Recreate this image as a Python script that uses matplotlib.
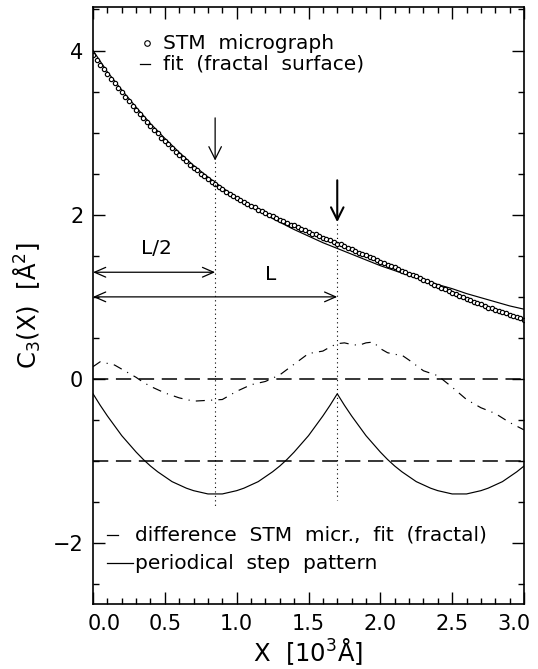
import numpy as np
import matplotlib
matplotlib.use('Agg')
import matplotlib.pyplot as plt
from matplotlib.ticker import MultipleLocator
from matplotlib.transforms import ScaledTranslation

plt.rcParams['font.family'] = 'DejaVu Sans'
plt.rcParams['mathtext.fontset'] = 'dejavusans'
plt.rcParams['lines.scale_dashes'] = False

# C3(X) from the STM micrograph, one circle every 0.025 (10^3 A)
stm_x = np.linspace(0.0, 3.0, 121)
stm_y = [3.95, 3.89, 3.83, 3.77, 3.71, 3.65, 3.60, 3.54, 3.49, 3.43,
         3.38, 3.33, 3.28, 3.23, 3.18, 3.13, 3.08, 3.03, 2.99, 2.94,
         2.90, 2.86, 2.81, 2.77, 2.73, 2.69, 2.65, 2.61, 2.57, 2.54,
         2.50, 2.47, 2.43, 2.40, 2.37, 2.34, 2.31, 2.28, 2.25, 2.23,
         2.20, 2.18, 2.15, 2.13, 2.11, 2.09, 2.06, 2.04, 2.02, 2.00,
         1.98, 1.96, 1.94, 1.92, 1.90, 1.88, 1.87, 1.85, 1.83, 1.81,
         1.79, 1.77, 1.76, 1.74, 1.72, 1.71, 1.69, 1.67, 1.65, 1.64,
         1.62, 1.60, 1.58, 1.56, 1.54, 1.52, 1.51, 1.49, 1.47, 1.45,
         1.43, 1.41, 1.39, 1.38, 1.36, 1.34, 1.32, 1.30, 1.28, 1.27,
         1.25, 1.23, 1.21, 1.19, 1.17, 1.15, 1.13, 1.11, 1.09, 1.07,
         1.05, 1.03, 1.01, 1.00, 0.98, 0.96, 0.94, 0.92, 0.91, 0.89,
         0.87, 0.86, 0.84, 0.83, 0.81, 0.80, 0.78, 0.77, 0.75, 0.74,
         0.72]

# fractal surface fit
fit_x = np.linspace(0.0, 3.0, 31)
fit_y = [4.00, 3.74, 3.52, 3.31, 3.11, 2.93, 2.76, 2.60, 2.46, 2.33,
         2.21, 2.10, 2.00, 1.91, 1.82, 1.74, 1.66, 1.59, 1.52, 1.45,
         1.38, 1.32, 1.26, 1.21, 1.15, 1.10, 1.04, 0.99, 0.94, 0.89,
         0.85]

# difference STM - fit
diff_x = [0.0, 0.05, 0.1, 0.15, 0.2, 0.25, 0.3, 0.35, 0.4,
          0.5, 0.6, 0.7, 0.8, 0.9, 1.0, 1.1, 1.2, 1.3, 1.4, 1.5,
          1.6, 1.65, 1.7, 1.75, 1.8, 1.85, 1.9, 1.95, 2.0, 2.05, 2.1, 2.15, 2.2,
          2.3, 2.4, 2.5, 2.6, 2.7, 2.8, 2.9, 3.0]
diff_y = [0.15, 0.21, 0.19, 0.17, 0.12, 0.07, 0.02, -0.04, -0.09,
          -0.17, -0.23, -0.27, -0.26, -0.25, -0.15, -0.07, -0.03, 0.05, 0.18, 0.31,
          0.34, 0.39, 0.43, 0.44, 0.42, 0.41, 0.44, 0.45, 0.37, 0.32, 0.30, 0.29, 0.23,
          0.10, 0.04, -0.10, -0.25, -0.35, -0.42, -0.53, -0.62]

# periodical step pattern (period L = 1.7), shifted by -1
step_x = np.linspace(0.0, 3.0, 61)
step_y = [-0.18, -0.32, -0.45, -0.57, -0.69, -0.79, -0.89, -0.98, -1.06,
          -1.13, -1.19, -1.25, -1.29, -1.33, -1.36, -1.38, -1.40, -1.40,
          -1.40, -1.38, -1.36, -1.33, -1.29, -1.25, -1.19, -1.13, -1.06,
          -0.98, -0.89, -0.79, -0.69, -0.57, -0.45, -0.32, -0.18,
          -0.32, -0.45, -0.57, -0.69, -0.79, -0.89, -0.98, -1.06, -1.13,
          -1.19, -1.25, -1.29, -1.33, -1.36, -1.38, -1.40, -1.40,
          -1.40, -1.38, -1.36, -1.33, -1.29, -1.25, -1.19, -1.13, -1.06]

zero_lines = [0.0, -1.0]
L = 1.7
x_ticks = [0.0, 0.5, 1.0, 1.5, 2.0, 2.5, 3.0]
y_ticks = [-2, 0, 2, 4]

fig = plt.figure(figsize=(5.38, 6.69), dpi=100)
ax = fig.add_axes([0.1729, 0.0972, 0.8011, 0.8923])

for y0 in zero_lines:
    ax.axhline(y0, color='k', lw=1.1, linestyle=(0, (11, 5.5)))

ax.plot(fit_x, fit_y, color='k', lw=0.85)
ax.plot(stm_x, stm_y, 'o', mfc='white', mec='k', ms=3.1, mew=0.85)
ax.plot(diff_x, diff_y, color='k', lw=0.85, linestyle=(0, (6.5, 4.5, 0.8, 4.5)))
ax.plot(step_x, step_y, color='k', lw=0.85)

# dotted markers at L/2 and L
ax.plot([L / 2, L / 2], [2.64, -1.56], color='k', lw=0.8, linestyle=(0, (0.8, 2.4)))
ax.plot([L, L], [1.89, -1.47], color='k', lw=0.8, linestyle=(0, (0.8, 2.4)))

ax.annotate('', xy=(L / 2, 2.66), xytext=(L / 2, 3.18),
            arrowprops=dict(arrowstyle='->,head_length=0.9,head_width=0.45',
                            lw=0.9, color='k', shrinkA=0, shrinkB=0))
ax.annotate('', xy=(L, 1.91), xytext=(L, 2.42),
            arrowprops=dict(arrowstyle='->,head_length=0.9,head_width=0.45',
                            lw=1.5, color='k', shrinkA=0, shrinkB=0))

ax.annotate('', xy=(L / 2, 1.30), xytext=(0.0, 1.30),
            arrowprops=dict(arrowstyle='<->,head_length=0.8,head_width=0.35',
                            lw=0.9, color='k', shrinkA=0, shrinkB=0))
ax.annotate('', xy=(L, 1.0), xytext=(0.0, 1.0),
            arrowprops=dict(arrowstyle='<->,head_length=0.8,head_width=0.35',
                            lw=0.9, color='k', shrinkA=0, shrinkB=0))
ax.text(0.44, 1.59, 'L/2', fontsize=14.5, ha='center', va='center')
ax.text(1.235, 1.27, 'L', fontsize=14.5, ha='center', va='center')

# legends drawn by hand
ax.plot([0.377], [4.09], 'o', mfc='white', mec='k', ms=4, mew=0.8)
ax.text(0.49, 4.09, 'STM  micrograph', fontsize=14.5, va='center')
ax.plot([0.33, 0.40], [3.84, 3.84], color='k', lw=0.9)
ax.text(0.49, 3.84, 'fit  (fractal  surface)', fontsize=14.5, va='center')

ax.plot([0.10, 0.175], [-1.90, -1.90], color='k', lw=0.9)
ax.text(0.29, -1.90, 'difference  STM  micr.,  fit  (fractal)', fontsize=14.5, va='center')
ax.plot([0.10, 0.28], [-2.245, -2.245], color='k', lw=0.9)
ax.text(0.29, -2.245, 'periodical  step  pattern', fontsize=14.5, va='center')

ax.set_xlim(0.0, 3.0)
ax.set_ylim(-2.74, 4.53)
ax.set_xticks(x_ticks)
ax.set_yticks(y_ticks)
ax.set_xticklabels([f'{v:.1f}' for v in x_ticks])
ax.xaxis.set_minor_locator(MultipleLocator(0.1))
ax.yaxis.set_minor_locator(MultipleLocator(0.5))
ax.tick_params(which='both', direction='in', top=True, right=True, width=1.0)
ax.tick_params(which='major', length=8.5, labelsize=15, pad=7)
ax.tick_params(which='minor', length=4.3)
for s in ax.spines.values():
    s.set_linewidth(1.2)

# keep the end labels inside the frame
labels = ax.get_xticklabels()
labels[0].set_transform(labels[0].get_transform() + ScaledTranslation(0.11, 0, fig.dpi_scale_trans))
labels[-1].set_transform(labels[-1].get_transform() + ScaledTranslation(-0.10, 0, fig.dpi_scale_trans))

ax.set_xlabel('X  [10$^3$Å]', fontsize=17.5, labelpad=2)
ax.set_ylabel('C$_3$(X)  [Å$^2$]', fontsize=17.5, labelpad=7)

fig.savefig('out.png', dpi=100)
